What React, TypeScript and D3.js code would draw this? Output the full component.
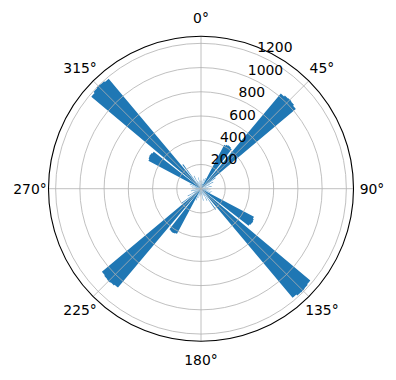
import React from 'react';
import * as d3 from 'd3';

// Histogram of directions, 2-degree bins (sparse: bins not listed are empty)
const BIN_WIDTH_DEG = 2;
const binStartDeg = [
  2, 6, 10, 14, 18, 22, 28, 30, 32, 34, 36, 40, 42, 44, 46, 48, 52, 56, 60, 64, 70, 76, 80, 86,
  92, 96, 100, 104, 108, 112, 118, 120, 122, 124, 126, 130, 132, 134, 136, 138, 144, 148, 152, 156, 162, 168, 172, 176,
  182, 186, 190, 194, 198, 202, 208, 210, 212, 214, 216, 220, 222, 224, 226, 228, 232, 236, 240, 244, 250, 256, 260, 266,
  272, 276, 280, 284, 288, 292, 298, 300, 302, 304, 306, 310, 312, 314, 316, 318, 322, 326, 330, 334, 340, 346, 350, 356,
];
const binCounts = [
  45, 70, 50, 85, 40, 95, 410, 418, 423, 420, 412, 1025, 1034, 1038, 1034, 1022, 150, 60, 115, 80, 50, 90, 40, 60,
  55, 80, 40, 95, 50, 85, 495, 503, 508, 505, 498, 1178, 1186, 1190, 1187, 1176, 210, 70, 110, 60, 45, 100, 50, 55,
  50, 65, 55, 80, 45, 105, 422, 428, 432, 430, 424, 1066, 1074, 1078, 1075, 1068, 200, 65, 125, 75, 55, 85, 45, 70,
  60, 75, 45, 90, 55, 100, 492, 500, 505, 502, 495, 1182, 1193, 1199, 1195, 1186, 250, 55, 120, 70, 60, 95, 40, 65,
];
const radialTicks = [200, 400, 600, 800, 1000, 1200];
const thetaTicks = [0, 45, 90, 135, 180, 225, 270, 315];
const thetaTickLabels = thetaTicks.map((d) => `${d}°`);

const W = 396;
const H = 380;
const CX = 201;
const CY = 188.7;
const R = 152.5;
const RLABEL_DEG = 22.5;
const THETA_LABEL_DIST = 171;
const FONT = '"DejaVu Sans", sans-serif';
const FS = 13.9;
const BAR_COLOR = '#1f77b4';

const rMax = (d3.max(binCounts) as number) * 1.05;
const rScale = d3.scaleLinear().domain([0, rMax]).range([0, R]);
// theta measured clockwise from north; screen angle = theta - 90deg
const aScale = d3.scaleLinear().domain([0, 360]).range([-Math.PI / 2, 1.5 * Math.PI]);

function barPaths(): string[] {
  // group adjacent bins into one outline so no seams appear between them
  const runs: number[][] = [];
  binStartDeg.forEach((s, i) => {
    const last = runs[runs.length - 1];
    if (last && binStartDeg[last[last.length - 1]] + BIN_WIDTH_DEG === s) last.push(i);
    else runs.push([i]);
  });
  return runs.map((run) => {
    const p = d3.path();
    p.moveTo(0, 0);
    run.forEach((i) => {
      const s = binStartDeg[i];
      p.arc(0, 0, rScale(binCounts[i]), aScale(s), aScale(s + BIN_WIDTH_DEG), false);
    });
    p.closePath();
    return p.toString();
  });
}

export default function App() {
  const paths = barPaths();
  const rl = aScale(RLABEL_DEG);

  return (
    <svg
      width={W}
      height={H}
      viewBox={`0 0 ${W} ${H}`}
      style={{ position: 'absolute', left: 0, top: 0, background: '#fff' }}
    >
      <rect x={0} y={0} width={W} height={H} fill="#fff" />
      <g transform={`translate(${CX},${CY})`}>
        {paths.map((d, i) => (
          <path key={i} d={d} fill={BAR_COLOR} />
        ))}
        {/* grid */}
        {radialTicks.map((t) => (
          <circle key={t} r={rScale(t)} fill="none" stroke="#b0b0b0" strokeWidth={0.8} />
        ))}
        {thetaTicks.map((t) => {
          const a = aScale(t);
          return (
            <line
              key={t}
              x1={0}
              y1={0}
              x2={R * Math.cos(a)}
              y2={R * Math.sin(a)}
              stroke="#b0b0b0"
              strokeWidth={0.8}
            />
          );
        })}
        <circle r={R} fill="none" stroke="#000" strokeWidth={1.1} />
        {/* radial labels */}
        {radialTicks.map((t) => (
          <text
            key={t}
            x={rScale(t) * Math.cos(rl) + 0.5}
            y={rScale(t) * Math.sin(rl) - 2}
            fontFamily={FONT}
            fontSize={FS}
            fill="#000"
            textAnchor="start"
          >
            {t}
          </text>
        ))}
        {/* theta labels */}
        {thetaTicks.map((t, i) => {
          const a = aScale(t);
          return (
            <text
              key={t}
              x={THETA_LABEL_DIST * Math.cos(a)}
              y={THETA_LABEL_DIST * Math.sin(a)}
              fontFamily={FONT}
              fontSize={FS}
              fill="#000"
              textAnchor="middle"
              dominantBaseline="central"
            >
              {thetaTickLabels[i]}
            </text>
          );
        })}
      </g>
    </svg>
  );
}
